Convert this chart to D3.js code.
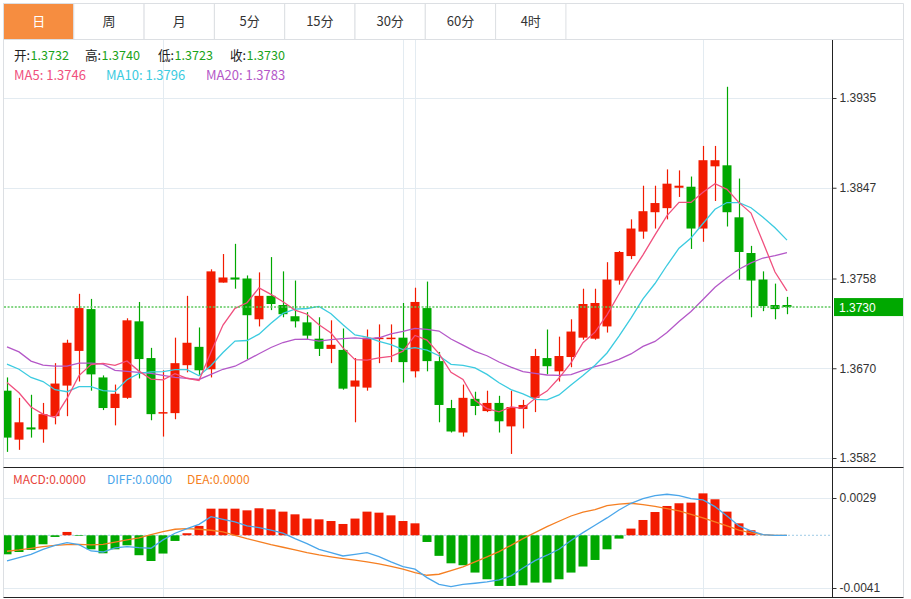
<!DOCTYPE html>
<html>
<head>
<meta charset="utf-8">
<script src="https://cdn.jsdelivr.net/npm/d3@7"></script>
<style>body{margin:0;background:#fff;}</style>
</head>
<body>
<script>
// candles
var opens  = [1.3648,1.3600,1.3612,1.3610,1.3623,1.3653,1.3687,1.3728,1.3661,1.3631,
              1.3641,1.3716,1.3680,1.3626,1.3626,1.3673,1.3691,1.3669,1.3754,1.3759,
              1.3758,1.3718,1.3741,1.3732,1.3721,1.3715,1.3699,1.3689,1.3688,1.3652,
              1.3651,1.3699,1.3699,1.3700,1.3667,1.3729,1.3677,1.3631,1.3607,1.3640,
              1.3628,1.3636,1.3613,1.3630,1.3641,1.3680,1.3667,1.3681,1.3700,1.3699,
              1.3711,1.3756,1.3780,1.3804,1.3823,1.3827,1.3847,1.3848,1.3807,1.3868,
              1.3869,1.3818,1.3783,1.3757,1.3732,1.3732];
var highs  = [1.3661,1.3641,1.3644,1.3636,1.3675,1.3698,1.3743,1.3738,1.3663,1.3654,
              1.3719,1.3735,1.3690,1.3668,1.3700,1.3741,1.3710,1.3767,1.3782,1.3792,
              1.3761,1.3764,1.3779,1.3765,1.3756,1.3725,1.3720,1.3717,1.3709,1.3680,
              1.3708,1.3713,1.3713,1.3734,1.3749,1.3755,1.3686,1.3639,1.3654,1.3647,
              1.3648,1.3643,1.3648,1.3639,1.3689,1.3708,1.3701,1.3718,1.3748,1.3748,
              1.3774,1.3785,1.3816,1.3849,1.3849,1.3865,1.3864,1.3858,1.3888,1.3888,
              1.3946,1.3856,1.3790,1.3765,1.3753,1.3740];
var lows   = [1.3588,1.3590,1.3602,1.3597,1.3615,1.3623,1.3657,1.3648,1.3629,1.3614,
              1.3640,1.3660,1.3619,1.3603,1.3620,1.3666,1.3663,1.3661,1.3754,1.3748,
              1.3679,1.3711,1.3727,1.3720,1.3710,1.3698,1.3682,1.3675,1.3649,1.3617,
              1.3648,1.3675,1.3676,1.3656,1.3661,1.3667,1.3617,1.3607,1.3603,1.3624,
              1.3627,1.3607,1.3586,1.3611,1.3627,1.3664,1.3657,1.3671,1.3698,1.3698,
              1.3705,1.3752,1.3777,1.3797,1.3807,1.3816,1.3838,1.3787,1.3794,1.3834,
              1.3809,1.3757,1.3720,1.3726,1.3718,1.3723];
var closes = [1.3602,1.3617,1.3610,1.3625,1.3655,1.3695,1.3729,1.3664,1.3631,1.3645,
              1.3717,1.3679,1.3625,1.3627,1.3675,1.3695,1.3668,1.3765,1.3759,1.3757,
              1.3722,1.3741,1.3733,1.3723,1.3716,1.3702,1.3689,1.3693,1.3650,1.3658,
              1.3700,1.3700,1.3700,1.3676,1.3735,1.3677,1.3634,1.3608,1.3641,1.3633,
              1.3636,1.3618,1.3632,1.3634,1.3682,1.3672,1.3682,1.3706,1.3733,1.3734,
              1.3757,1.3784,1.3807,1.3824,1.3832,1.3851,1.3849,1.3807,1.3874,1.3874,
              1.3823,1.3784,1.3756,1.3731,1.3728,1.3730];

// MA values at the left edge (their windows start before the visible data)
var ma5Head  = [1.3656,1.3646,1.3632,1.3625];
var ma10Head = [1.3674,1.3669,1.3661,1.3657,1.3649,1.3647,1.3652,1.3652,1.3648];
var ma20Head = [1.3691,1.3686,1.3677,1.3673,1.3672,1.3672,1.3675,1.3675,1.3674,1.3668,
                1.3667,1.3666,1.3665,1.3663,1.3661,1.3660,1.3659,1.3664,1.3669];

// MACD panel
var macdBars = [-0.00148,-0.0013,-0.00114,-0.0007,-0.00013,0.00026,-0.00005,-0.00109,-0.0014,-0.00109,
                -0.00078,-0.00155,-0.002,-0.00142,-0.00044,0.00016,0.00073,0.00207,0.00207,0.00207,
                0.00194,0.0021,0.00202,0.00184,0.00163,0.0013,0.00124,0.00111,0.00088,0.0013,
                0.00184,0.00176,0.00155,0.00111,0.00093,-0.00052,-0.0016,-0.00218,-0.00233,-0.0029,
                -0.00342,-0.00394,-0.00394,-0.00389,-0.00368,-0.00368,-0.00342,-0.0029,-0.00243,-0.00192,
                -0.00109,-0.00026,0.00052,0.00119,0.00181,0.00228,0.00249,0.00254,0.00326,0.0028,
                0.00184,0.00093,0.00039,0,0,0];
var diffs = [-0.00199,-0.00174,-0.00148,-0.00109,-0.00078,-0.00057,-0.00073,-0.00122,-0.0013,-0.00098,
             -0.00088,-0.00096,-0.00101,-0.00036,0.00016,0.00052,0.00085,0.00145,0.00124,0.00104,
             0.00073,0.0006,0.00041,0.00016,-0.00026,-0.00065,-0.00109,-0.00135,-0.00161,-0.00148,
             -0.00135,-0.00166,-0.00207,-0.00243,-0.00264,-0.00329,-0.00381,-0.00399,-0.00381,-0.00373,
             -0.00363,-0.00347,-0.00316,-0.00254,-0.00197,-0.00155,-0.00109,-0.00041,0.00021,0.00078,
             0.00135,0.00197,0.00249,0.00285,0.00308,0.00319,0.00308,0.00285,0.00275,0.00223,
             0.0015,0.00073,0.00034,0.00005,0,0];
var deas = [-0.00124,-0.00114,-0.00101,-0.00088,-0.00078,-0.00073,-0.0007,-0.00075,-0.0007,-0.00054,
            -0.00036,-0.00021,0.00005,0.00028,0.00047,0.00052,0.00047,0.00039,0.00026,0,
            -0.00026,-0.00049,-0.00073,-0.00093,-0.00114,-0.00135,-0.00153,-0.00168,-0.00181,-0.00194,
            -0.00207,-0.00223,-0.00241,-0.00264,-0.0029,-0.00311,-0.00303,-0.00275,-0.00246,-0.00207,
            -0.00168,-0.00127,-0.00078,-0.00026,0.00021,0.00067,0.00109,0.0015,0.00181,0.00199,
            0.00231,0.00243,0.00249,0.00238,0.00225,0.00207,0.00189,0.00163,0.00135,0.00104,
            0.00073,0.00041,0.00018,0.00005,0,0];

var tabs = ["日","周","月","5分","15分","30分","60分","4时"];
var priceTicks = [1.3582,1.3670,1.3758,1.3847,1.3935];
var macdTicks = [0.0029,-0.0041];
var gridIdx = [13,33,34,58];

var red = "#f21b00", green = "#00a800";
var gridColor = "#e3ebf1";

var svg = d3.select("body").append("svg")
    .attr("width", 911)
    .attr("height", 599)
    .style("font-family", "'Microsoft YaHei','Noto Sans CJK SC',sans-serif");

var left = 4, right = 832;

var x = d3.scaleBand().domain(d3.range(closes.length))
    .range([1, 793]).paddingInner(0.25).paddingOuter(0.125);
var cx = function(i) { return x(i) + x.bandwidth() / 2; };
var y = d3.scaleLinear().domain([1.3582, 1.3935]).range([458, 98]);
var ym = d3.scaleLinear().domain([-0.0041, 0.0029]).range([588, 498]);

//moving averages
function ma(n, head) {
    return closes.map(function(c, i) {
        if (i < n - 1) return head[i];
        return d3.mean(closes.slice(i - n + 1, i + 1));
    });
}
var ma5 = ma(5, ma5Head), ma10 = ma(10, ma10Head), ma20 = ma(20, ma20Head);

var defs = svg.append("defs");
defs.append("clipPath").attr("id", "clipMain").append("rect")
    .attr("x", left).attr("y", 40).attr("width", right - left).attr("height", 427);
defs.append("clipPath").attr("id", "clipMacd").append("rect")
    .attr("x", left).attr("y", 468).attr("width", right - left).attr("height", 129);

//tabs
var tabW = 70.3;
var tabG = svg.append("g");
tabG.selectAll("rect").data(tabs).enter().append("rect")
    .attr("x", function(d, i) { return 3.5 + i * tabW; })
    .attr("y", 3.5)
    .attr("width", tabW)
    .attr("height", 36)
    .attr("fill", function(d, i) { return i === 0 ? "#f68d40" : "#fff"; })
    .attr("stroke", "#dcdfe3");
tabG.selectAll("text").data(tabs).enter().append("text")
    .attr("x", function(d, i) { return 3.5 + i * tabW + tabW / 2; })
    .attr("y", 26)
    .attr("text-anchor", "middle")
    .attr("font-size", 13)
    .attr("fill", function(d, i) { return i === 0 ? "#fff" : "#333"; })
    .text(function(d) { return d; });
svg.append("line").attr("x1", 3.5).attr("x2", 903.5).attr("y1", 3.5).attr("y2", 3.5).attr("stroke", "#dcdfe3");
svg.append("line").attr("x1", 3.5).attr("x2", 903.5).attr("y1", 39.5).attr("y2", 39.5).attr("stroke", "#dcdfe3");

//frame
svg.append("line").attr("x1", 3.5).attr("x2", 3.5).attr("y1", 39.5).attr("y2", 597.5).attr("stroke", "#dcdfe3");
svg.append("line").attr("x1", 903.5).attr("x2", 903.5).attr("y1", 3.5).attr("y2", 597.5).attr("stroke", "#dcdfe3");

//grid
var grid = svg.append("g").attr("stroke", gridColor);
grid.selectAll("line.h").data(priceTicks).enter().append("line")
    .attr("x1", left).attr("x2", right)
    .attr("y1", function(d) { return Math.round(y(d)) + 0.5; })
    .attr("y2", function(d) { return Math.round(y(d)) + 0.5; });
grid.selectAll("line.m").data(macdTicks).enter().append("line")
    .attr("x1", left).attr("x2", right)
    .attr("y1", function(d) { return Math.round(ym(d)) + 0.5; })
    .attr("y2", function(d) { return Math.round(ym(d)) + 0.5; });
grid.selectAll("line.v").data(gridIdx).enter().append("line")
    .attr("x1", function(d) { return Math.round(cx(d)) + 0.5; })
    .attr("x2", function(d) { return Math.round(cx(d)) + 0.5; })
    .attr("y1", 40).attr("y2", 597);

//candles
var main = svg.append("g").attr("clip-path", "url(#clipMain)");
var candle = main.selectAll("g.candle").data(closes).enter().append("g")
    .attr("class", "candle");
candle.append("line")
    .attr("x1", function(d, i) { return Math.round(cx(i)) + 0.5; })
    .attr("x2", function(d, i) { return Math.round(cx(i)) + 0.5; })
    .attr("y1", function(d, i) { return y(highs[i]); })
    .attr("y2", function(d, i) { return y(lows[i]); })
    .attr("stroke", function(d, i) { return d >= opens[i] ? red : green; })
    .attr("stroke-width", 1.2);
candle.append("rect")
    .attr("x", function(d, i) { return x(i); })
    .attr("y", function(d, i) { return y(Math.max(d, opens[i])); })
    .attr("width", x.bandwidth())
    .attr("height", function(d, i) { return Math.max(1.5, Math.abs(y(d) - y(opens[i]))); })
    .attr("fill", function(d, i) { return d >= opens[i] ? red : green; });

var line = d3.line().x(function(d, i) { return cx(i); }).y(function(d) { return y(d); });
[[ma20, "#b458c8"], [ma10, "#3ccbe0"], [ma5, "#f0507e"]].forEach(function(s) {
    main.append("path").attr("d", line(s[0]))
        .attr("fill", "none").attr("stroke", s[1]).attr("stroke-width", 1.3);
});

//last price line
var last = closes[closes.length - 1];
svg.append("line")
    .attr("x1", left).attr("x2", right)
    .attr("y1", y(last)).attr("y2", y(last))
    .attr("stroke", "#5cc85c").attr("stroke-width", 1.6)
    .attr("stroke-dasharray", "2,1.6");

//macd
var macd = svg.append("g").attr("clip-path", "url(#clipMacd)");
macd.append("line")
    .attr("x1", left).attr("x2", right)
    .attr("y1", ym(0)).attr("y2", ym(0))
    .attr("stroke", "#9fcbe6").attr("stroke-dasharray", "2,2");
macd.selectAll("rect").data(macdBars).enter().append("rect")
    .attr("x", function(d, i) { return x(i); })
    .attr("y", function(d) { return Math.min(ym(d), ym(0)); })
    .attr("width", x.bandwidth())
    .attr("height", function(d) { return Math.abs(ym(d) - ym(0)); })
    .attr("fill", function(d) { return d >= 0 ? red : green; });
var mline = d3.line().x(function(d, i) { return cx(i); }).y(function(d) { return ym(d); });
macd.append("path").attr("d", mline(deas)).attr("fill", "none").attr("stroke", "#f57f22").attr("stroke-width", 1.3);
macd.append("path").attr("d", mline(diffs)).attr("fill", "none").attr("stroke", "#4aa6ea").attr("stroke-width", 1.3);

//separators and axis line
svg.append("line").attr("x1", 3.5).attr("x2", 903.5).attr("y1", 467.5).attr("y2", 467.5).attr("stroke", "#222");
svg.append("line").attr("x1", 3.5).attr("x2", 903.5).attr("y1", 597.5).attr("y2", 597.5).attr("stroke", "#222");
svg.append("line").attr("x1", right + 0.5).attr("x2", right + 0.5).attr("y1", 40).attr("y2", 597).attr("stroke", "#222");

//axes
var fmt = function(d) { return d.toFixed(4); };
var ay = svg.append("g").attr("transform", "translate(" + (right + 0.5) + ",0)")
    .call(d3.axisRight(y).tickValues(priceTicks).tickSize(4).tickPadding(3).tickFormat(fmt));
var am = svg.append("g").attr("transform", "translate(" + (right + 0.5) + ",0)")
    .call(d3.axisRight(ym).tickValues(macdTicks).tickSize(4).tickPadding(3).tickFormat(fmt));
[ay, am].forEach(function(a) {
    a.select(".domain").remove();
    a.selectAll("text").attr("font-size", 12).attr("fill", "#333")
        .attr("font-family", "'Liberation Sans',Arial,sans-serif");
    a.selectAll("line").attr("stroke", "#333");
});

//last price label
svg.append("rect").attr("x", right + 2).attr("y", y(last) - 9)
    .attr("width", 69).attr("height", 18).attr("fill", green);
svg.append("text").attr("x", right + 7).attr("y", y(last) + 4.5)
    .attr("font-size", 12).attr("fill", "#fff")
    .attr("font-family", "'Liberation Sans',Arial,sans-serif")
    .text(fmt(last));

//legends
var n = closes.length - 1;
var ohlc = [["开:", opens[n], 14], ["高:", highs[n], 85], ["低:", lows[n], 158], ["收:", closes[n], 230]];
ohlc.forEach(function(o) {
    var lab = svg.append("text").attr("x", o[2]).attr("y", 60).attr("font-size", 12.6)
        .attr("fill", "#222").text(o[0]);
    var w = lab.node().getComputedTextLength();
    svg.append("text").attr("x", o[2] + w + 0.5).attr("y", 60).attr("font-size", 12.6)
        .attr("fill", "#1aa31a").text(fmt(o[1]));
});
[["MA5: ", ma5[n], 14, "#f0507e"], ["MA10: ", ma10[n], 106, "#3ccbe0"], ["MA20: ", ma20[n], 206, "#b458c8"]]
    .forEach(function(o) {
        svg.append("text").attr("x", o[2]).attr("y", 79.5).attr("font-size", 13)
            .attr("fill", o[3]).text(o[0] + fmt(o[1]));
    });
[["MACD:", macdBars[n], 13, "#e8453c"], ["DIFF:", diffs[n], 107, "#4aa6ea"], ["DEA:", deas[n], 187, "#f57f22"]]
    .forEach(function(o) {
        svg.append("text").attr("x", o[2]).attr("y", 484).attr("font-size", 12)
            .attr("fill", o[3]).text(o[0] + fmt(o[1]));
    });
</script>
</body>
</html>
